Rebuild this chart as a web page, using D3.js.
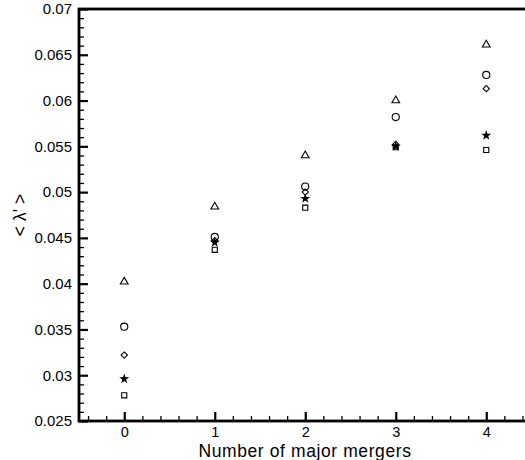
<!DOCTYPE html>
<html>
<head>
<meta charset="utf-8">
<script src="https://cdn.jsdelivr.net/npm/d3@7"></script>
<style>
  html, body { margin: 0; padding: 0; background: #fff; }
  svg { display: block; font-family: "Liberation Sans", Arial, Helvetica, sans-serif; }
</style>
</head>
<body>
<svg id="chart" width="525" height="460"></svg>
<script>
// ---- data ----
const mergers = [0, 1, 2, 3, 4];
const triangleVals = [0.0402, 0.0484, 0.0540, 0.0600, 0.0661];
const circleVals   = [0.0353, 0.0451, 0.0506, 0.0582, 0.0628];
const diamondVals  = [0.0322, 0.0447, 0.0500, 0.0552, 0.0613];
const starVals     = [0.0296, 0.0445, 0.0493, 0.0550, 0.0562];
const squareVals   = [0.0278, 0.0437, 0.0483, 0.0549, 0.0546];
const xTickVals = [0, 1, 2, 3, 4];
const xTickLabels = ["0", "1", "2", "3", "4"];
const yTickVals = [0.025, 0.03, 0.035, 0.04, 0.045, 0.05, 0.055, 0.06, 0.065, 0.07];
const yTickLabels = ["0.025", "0.03", "0.035", "0.04", "0.045", "0.05", "0.055", "0.06", "0.065", "0.07"];
const xLabel = "Number of major mergers";
const yLabel = "< \u03BB' >";

// ---- layout ----
const svg = d3.select("#chart");
const mLeft = 79, mTop = 9, mBottom = 421;
const x = d3.scaleLinear().domain([-0.5, 4.5]).range([mLeft, mLeft + 5 * 90.5]);
const y = d3.scaleLinear().domain([0.025, 0.07]).range([mBottom, mTop]);

// minor ticks
const xMinor = d3.range(-0.4, 4.5, 0.2).map(v => +v.toFixed(1)).filter(v => !xTickVals.includes(v));
const yMinor = d3.range(25, 71, 1).map(v => v / 1000).filter(v => !yTickVals.some(t => Math.abs(t - v) < 1e-9));

svg.append("g").attr("transform", `translate(0,${mBottom})`)
  .call(d3.axisBottom(x).tickValues(xMinor).tickSize(-5).tickFormat(""))
  .call(g => g.select(".domain").remove())
  .selectAll("line").attr("stroke", "#000").attr("stroke-width", 1.3);

svg.append("g").attr("transform", `translate(${mLeft},0)`)
  .call(d3.axisLeft(y).tickValues(yMinor).tickSize(-5).tickFormat(""))
  .call(g => g.select(".domain").remove())
  .selectAll("line").attr("stroke", "#000").attr("stroke-width", 1.3);

// major ticks
const xAxis = svg.append("g").attr("transform", `translate(0,${mBottom})`)
  .call(d3.axisBottom(x).tickValues(xTickVals).tickSize(-9).tickPadding(6)
    .tickFormat((d, i) => xTickLabels[i]));
xAxis.select(".domain").remove();
xAxis.selectAll("line").attr("stroke", "#000").attr("stroke-width", 2.2);
xAxis.selectAll("text").attr("font-size", 14.5).attr("fill", "#000")
  .attr("font-family", "Liberation Sans, Arial, sans-serif");

const yAxis = svg.append("g").attr("transform", `translate(${mLeft},0)`)
  .call(d3.axisLeft(y).tickValues(yTickVals).tickSize(-9).tickPadding(7)
    .tickFormat((d, i) => yTickLabels[i]));
yAxis.select(".domain").remove();
yAxis.selectAll("line").attr("stroke", "#000").attr("stroke-width", 2.2);
yAxis.selectAll("text").attr("font-size", 15).attr("fill", "#000")
  .attr("font-family", "Liberation Sans, Arial, sans-serif");

// frame
svg.append("rect")
  .attr("x", mLeft).attr("y", mTop)
  .attr("width", x(4.5) - mLeft).attr("height", mBottom - mTop)
  .attr("fill", "none").attr("stroke", "#000").attr("stroke-width", 2.8);

// axis titles
svg.append("text")
  .attr("x", 305).attr("y", 457)
  .attr("text-anchor", "middle").attr("font-size", 17.5)
  .attr("letter-spacing", 0.6).attr("fill", "#000")
  .text(xLabel);

svg.append("text")
  .attr("transform", `translate(25.5,${(mTop + mBottom) / 2}) rotate(-90)`)
  .attr("text-anchor", "middle").attr("font-size", 17.5).attr("fill", "#000")
  .text(yLabel);

// ---- markers ----
const series = [
  { vals: triangleVals, type: d3.symbolTriangle, size: 26, fill: "none" },
  { vals: circleVals, type: d3.symbolCircle, size: 40, fill: "none" },
  { vals: diamondVals, type: d3.symbolSquare, size: 20, fill: "none", rotate: 45 },
  { vals: starVals, type: d3.symbolStar, size: 14, fill: "#000" },
  { vals: squareVals, type: d3.symbolSquare, size: 26, fill: "none" }
];

series.forEach(s => {
  svg.append("g").selectAll("path")
    .data(mergers.map((m, i) => [m, s.vals[i]]))
    .join("path")
    .attr("transform", d => `translate(${x(d[0])},${y(d[1])})${s.rotate ? " rotate(" + s.rotate + ")" : ""}`)
    .attr("d", d3.symbol().type(s.type).size(s.size))
    .attr("fill", s.fill)
    .attr("stroke", "#000")
    .attr("stroke-width", 1.1);
});
</script>
</body>
</html>
